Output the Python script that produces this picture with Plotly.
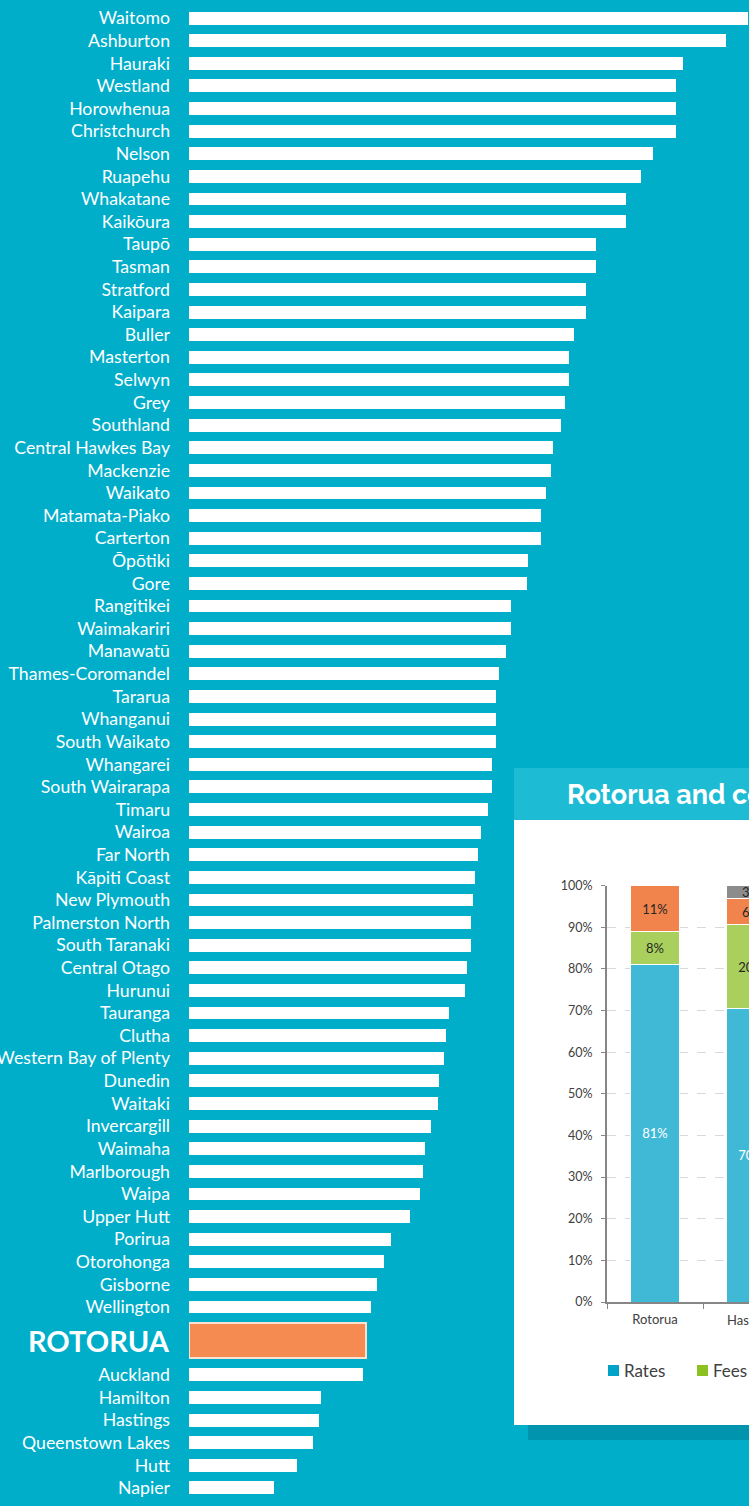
import plotly.graph_objects as go

W, H = 749, 1506

# main ranking (bar lengths, arbitrary units)
councils = ["Waitomo", "Ashburton", "Hauraki", "Westland", "Horowhenua", "Christchurch",
            "Nelson", "Ruapehu", "Whakatane", "Kaikōura", "Taupō", "Tasman", "Stratford",
            "Kaipara", "Buller", "Masterton", "Selwyn", "Grey", "Southland",
            "Central Hawkes Bay", "Mackenzie", "Waikato", "Matamata-Piako", "Carterton",
            "Ōpōtiki", "Gore", "Rangitikei", "Waimakariri", "Manawatū", "Thames-Coromandel",
            "Tararua", "Whanganui", "South Waikato", "Whangarei", "South Wairarapa", "Timaru",
            "Wairoa", "Far North", "Kāpiti Coast", "New Plymouth", "Palmerston North",
            "South Taranaki", "Central Otago", "Hurunui", "Tauranga", "Clutha",
            "Western Bay of Plenty", "Dunedin", "Waitaki", "Invercargill", "Waimaha",
            "Marlborough", "Waipa", "Upper Hutt", "Porirua", "Otorohonga", "Gisborne",
            "Wellington", "Rotorua", "Auckland", "Hamilton", "Hastings", "Queenstown Lakes",
            "Hutt", "Napier"]
values = [559, 537, 494, 487, 487, 487, 464, 452, 437, 437, 407, 407, 397, 397, 385, 380,
          380, 376, 372, 364, 362, 357, 352, 352, 339, 338, 322, 322, 317, 310, 307, 307,
          307, 303, 303, 299, 292, 289, 286, 284, 282, 282, 278, 276, 260, 257, 255, 250,
          249, 242, 236, 234, 231, 221, 202, 195, 188, 182, 177, 174, 132, 130, 124, 108, 85]
HIGHLIGHT = "Rotorua"

# inset: revenue mix
inset_cats = ["Rotorua", "Hastings"]
rates = [81, 70.4]
fees = [8, 20.2]
other = [11, 6.3]
grants = [0, 3.1]

TEAL = "#00AECA"

# row positions: highlighted row gets extra room
ypos = []
p = -1.0
prev = None
for c in councils:
    p += 1.5 if (c == HIGHLIGHT or prev == HIGHLIGHT) else 1.0
    ypos.append(p)
    prev = c

colors = ["#F58B50" if c == HIGHLIGHT else "white" for c in councils]
widths = [1.55 if c == HIGHLIGHT else 0.57 for c in councils]
lw = [2 if c == HIGHLIGHT else 0 for c in councils]
ticktext = ["" if c == HIGHLIGHT else c for c in councils]

fig = go.Figure()
fig.add_trace(go.Bar(
    x=values, y=ypos, orientation="h", width=widths,
    marker=dict(color=colors, line=dict(color="#FBE2D0", width=lw)),
    showlegend=False, xaxis="x", yaxis="y"))

px = lambda v: v / W
py = lambda v: 1 - v / H

# inset stacked bars
seg = [("Rates", rates, "#40B9D6", "white"),
       ("Fees", fees, "#A9D05C", "#262626"),
       ("Other", other, "#F0844C", "#262626"),
       ("Grants", grants, "#8C8C8C", "#262626")]
for name, vals, col, tc in seg:
    fig.add_trace(go.Bar(
        x=inset_cats, y=vals, name=name, width=0.51,
        marker=dict(color=col, line=dict(color="white", width=1)),
        text=[f"{v:.0f}%" if v > 0 else "" for v in vals],
        textposition="inside", insidetextanchor="middle", constraintext="none",
        textfont=dict(color=tc, size=13, family="Lato"),
        showlegend=False, xaxis="x2", yaxis="y2"))

shapes = [
    dict(type="rect", xref="paper", yref="paper", x0=px(528), x1=1.05, y0=py(1440), y1=py(1425),
         fillcolor="rgba(0,60,80,0.22)", line_width=0, layer="below"),
    dict(type="rect", xref="paper", yref="paper", x0=px(514), x1=1.05, y0=py(1425), y1=py(768),
         fillcolor="white", line_width=0, layer="below"),
    dict(type="rect", xref="paper", yref="paper", x0=px(514), x1=1.05, y0=py(820), y1=py(768),
         fillcolor="#1DBCD4", line_width=0, layer="below"),
]

annotations = [
    dict(text="<b>ROTORUA</b>", xref="paper", yref="y", x=px(172), y=ypos[councils.index(HIGHLIGHT)],
         xanchor="right", yanchor="middle", showarrow=False,
         font=dict(family="Lato", size=29, color="white")),
    dict(text="<b>Rotorua and comparator councils</b>", xref="paper", yref="paper",
         x=px(565), y=py(794), xanchor="left", yanchor="middle", showarrow=False,
         font=dict(family="Raleway, Lato", size=27, color="white")),
    dict(text="Hastings", xref="paper", yref="paper", x=px(752), y=py(1320),
         xanchor="center", yanchor="middle", showarrow=False,
         font=dict(family="Lato", size=13, color="#404040")),
]

# hand-made legend for the inset
legend_items = [("Rates", "#00A3C8", 608), ("Fees", "#8DC021", 697)]
for name, col, lx in legend_items:
    shapes.append(dict(type="rect", xref="paper", yref="paper", x0=px(lx), x1=px(lx + 11),
                       y0=py(1376), y1=py(1365), fillcolor=col, line_width=0))
    annotations.append(dict(text=name, xref="paper", yref="paper", x=px(lx + 14), y=py(1370),
                            xanchor="left", yanchor="middle", showarrow=False,
                            font=dict(family="Lato", size=17, color="#404040")))

fig.update_layout(
    width=W, height=H,
    margin=dict(l=0, r=0, t=0, b=0),
    paper_bgcolor=TEAL, plot_bgcolor="rgba(0,0,0,0)",
    barmode="stack",
    shapes=shapes, annotations=annotations,
    xaxis=dict(domain=[px(189), 1], range=[0, 560], visible=False, fixedrange=True),
    yaxis=dict(domain=[0, 1], range=[ypos[-1] + 0.8, -0.8], tickvals=ypos, ticktext=ticktext,
               showgrid=False, zeroline=False, showline=False, ticks="",
               ticklabelstandoff=18, automargin=False,
               tickfont=dict(family="Lato", size=17.7, color="white")),
    xaxis2=dict(domain=[px(607), 1], range=[-0.5, 0.979], anchor="y2", type="category",
                showline=True, linecolor="#868686", linewidth=1.5, ticks="outside",
                tickson="boundaries", ticklen=5, tickcolor="#868686", showgrid=False,
                automargin=False, ticklabelstandoff=5,
                tickfont=dict(family="Lato", size=13, color="#404040")),
    yaxis2=dict(domain=[py(1302), py(885.7)], range=[0, 100], anchor="x2", dtick=10,
                ticksuffix="%", showline=True, linecolor="#868686", linewidth=2,
                ticks="outside", ticklen=4, tickcolor="#868686",
                gridcolor="#D9D9D9", griddash="dash", zeroline=False, automargin=False,
                ticklabelstandoff=6,
                tickfont=dict(family="Lato", size=12.5, color="#404040")),
)

fig.write_html("out.html", config={"displayModeBar": False},
               post_script="document.body.style.margin='0';")
